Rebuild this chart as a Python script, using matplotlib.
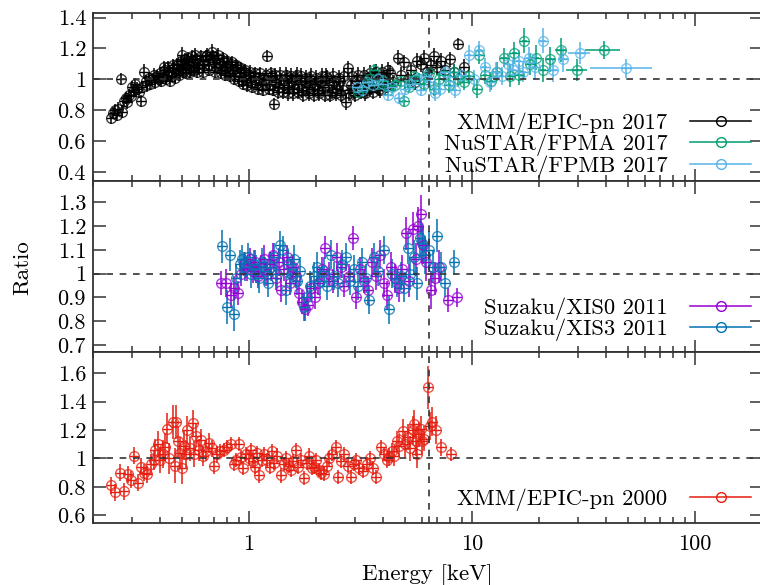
import matplotlib
matplotlib.use("Agg")
import matplotlib.pyplot as plt
from matplotlib.lines import Line2D
from matplotlib.ticker import FixedLocator, FuncFormatter, LogLocator, NullFormatter

plt.rcParams['font.family'] = 'serif'
plt.rcParams['font.serif'] = ['cmr10']
plt.rcParams['mathtext.fontset'] = 'cm'
plt.rcParams['axes.formatter.use_mathtext'] = True
plt.rcParams['font.size'] = 16

# XMM/EPIC-pn 2017
e_xmm17 = [0.24, 0.245, 0.25, 0.255, 0.26, 0.266, 0.27, 0.275, 0.28, 0.285,
           0.29, 0.295, 0.30, 0.305, 0.31, 0.315, 0.32, 0.327, 0.333, 0.338,
           0.345, 0.35, 0.356, 0.362, 0.368, 0.375, 0.38, 0.387, 0.394, 0.40,
           0.41, 0.42, 0.43, 0.44, 0.45, 0.46, 0.47, 0.48, 0.49, 0.50,
           0.51, 0.52, 0.53, 0.54, 0.55, 0.56, 0.57, 0.58, 0.59, 0.60,
           0.62, 0.63, 0.64, 0.66, 0.67, 0.68, 0.70, 0.71, 0.72, 0.74,
           0.76, 0.77, 0.79, 0.81, 0.83, 0.85, 0.87, 0.89, 0.91, 0.93,
           0.95, 0.97, 1.00, 1.02, 1.05, 1.08, 1.11, 1.14, 1.17, 1.21,
           1.24, 1.27, 1.30, 1.33, 1.37, 1.40, 1.44, 1.48, 1.52, 1.56,
           1.60, 1.64, 1.68, 1.73, 1.78, 1.83, 1.88, 1.93, 1.98, 2.04,
           2.10, 2.16, 2.22, 2.28, 2.35, 2.42, 2.49, 2.56, 2.64, 2.72,
           2.78, 2.86, 2.95, 3.04, 3.13, 3.23, 3.33, 3.43, 3.54, 3.65,
           3.77, 3.89, 4.02, 4.15, 4.30, 4.45, 4.65, 4.80, 4.96, 5.15,
           5.35, 5.55, 5.70, 5.90, 6.10, 6.30, 6.55, 6.75, 7.00, 7.30,
           7.60, 8.00, 8.30, 8.70, 9.20,
           0.405, 0.415, 0.425, 0.435, 0.445, 0.455, 0.465, 0.475, 0.485, 0.495,
           0.505, 0.515, 0.525, 0.535, 0.545, 0.555, 0.565, 0.575, 0.585, 0.61,
           0.625, 0.65, 0.665, 0.69, 0.705, 0.73, 0.75, 0.765, 0.78, 0.80,
           0.82, 0.84, 0.86, 0.88, 0.90, 0.92, 0.94, 0.96, 0.985, 1.01,
           1.035, 1.065, 1.095, 1.125, 1.155, 1.19, 1.225, 1.255, 1.285, 1.315,
           1.35, 1.385, 1.42, 1.46, 1.50, 1.54, 1.58, 1.62, 1.66, 1.705,
           1.755, 1.805, 1.855, 1.905, 1.955, 2.01, 2.07, 2.13, 2.19, 2.25,
           2.31, 2.385, 2.455, 2.525, 2.60, 2.68, 2.82, 2.90, 3.00, 3.08,
           3.18, 3.28, 3.38, 3.48, 3.60, 3.71, 3.83, 3.95, 4.08, 4.22]
r_xmm17 = [0.75, 0.78, 0.80, 0.77, 0.81, 1.00, 0.79, 0.86, 0.88, 0.85,
           0.90, 0.89, 0.95, 0.93, 0.97, 0.94, 0.92, 0.86, 0.95, 1.05,
           0.99, 0.96, 1.01, 0.97, 1.00, 1.03, 0.98, 1.02, 1.00, 1.04,
           1.01, 1.06, 1.03, 1.05, 1.02, 1.07, 1.04, 1.09, 1.06, 1.16,
           1.10, 1.07, 1.12, 1.09, 1.06, 1.11, 1.08, 1.13, 1.10, 1.07,
           1.12, 1.09, 1.15, 1.10, 1.13, 1.18, 1.11, 1.08, 1.14, 1.10,
           1.06, 1.12, 1.08, 1.04, 1.10, 1.06, 1.02, 1.08, 1.04, 0.99,
           1.05, 1.01, 1.03, 0.98, 1.02, 0.97, 1.01, 0.96, 1.00, 1.15,
           0.97, 1.02, 0.84, 0.98, 0.95, 1.00, 0.96, 1.01, 0.95, 0.99,
           0.94, 1.03, 0.97, 0.93, 0.99, 0.95, 1.00, 0.94, 0.97, 0.93,
           0.99, 0.95, 1.02, 0.96, 0.92, 0.98, 0.94, 0.99, 0.93, 0.85,
           1.07, 0.96, 0.92, 0.99, 0.94, 0.97, 0.91, 1.00, 0.95, 1.03,
           0.97, 0.93, 1.01, 0.96, 1.04, 0.98, 1.14, 1.03, 1.11, 1.00,
           1.06, 0.98, 1.12, 1.10, 1.14, 1.05, 1.09, 1.15, 1.08, 1.12,
           1.06, 1.13, 1.05, 1.23, 1.08,
           0.99, 1.08, 1.00, 1.08, 0.99, 1.09, 1.01, 1.10, 1.03, 1.12,
           1.05, 1.13, 1.04, 1.14, 1.05, 1.15, 1.06, 1.16, 1.05, 1.15,
           1.05, 1.16, 1.06, 1.15, 1.05, 1.16, 1.04, 1.14, 1.03, 1.12,
           1.02, 1.11, 1.00, 1.09, 0.99, 1.07, 0.97, 1.06, 0.96, 1.05,
           0.95, 1.04, 0.94, 1.04, 0.93, 1.03, 0.94, 1.04, 0.93, 1.03,
           0.92, 1.03, 0.92, 1.03, 0.91, 1.02, 0.91, 1.01, 0.92, 1.02,
           0.90, 1.01, 0.91, 1.02, 0.90, 1.01, 0.91, 1.02, 0.90, 1.01,
           0.90, 1.02, 0.91, 1.01, 0.90, 1.02, 0.91, 1.02, 0.90, 1.03,
           0.92, 1.03, 0.93, 1.04, 0.92, 1.05, 0.94, 1.05, 0.95, 1.06]
d_xmm17 = [0.04, 0.04, 0.04, 0.04, 0.04, 0.04, 0.04, 0.04, 0.04, 0.04,
           0.04, 0.04, 0.04, 0.04, 0.04, 0.04, 0.04, 0.04, 0.04, 0.05,
           0.04, 0.04, 0.04, 0.04, 0.04, 0.04, 0.04, 0.04, 0.04, 0.04,
           0.04, 0.04, 0.04, 0.04, 0.04, 0.04, 0.04, 0.04, 0.04, 0.05,
           0.04, 0.04, 0.04, 0.04, 0.04, 0.04, 0.04, 0.04, 0.04, 0.04,
           0.04, 0.04, 0.04, 0.04, 0.04, 0.05, 0.04, 0.04, 0.04, 0.04,
           0.04, 0.04, 0.04, 0.04, 0.04, 0.04, 0.04, 0.04, 0.04, 0.04,
           0.04, 0.04, 0.04, 0.04, 0.04, 0.04, 0.04, 0.04, 0.04, 0.04,
           0.04, 0.04, 0.04, 0.04, 0.05, 0.04, 0.05, 0.05, 0.05, 0.05,
           0.05, 0.05, 0.05, 0.05, 0.05, 0.05, 0.05, 0.05, 0.05, 0.05,
           0.05, 0.05, 0.05, 0.05, 0.05, 0.05, 0.05, 0.05, 0.05, 0.05,
           0.05, 0.05, 0.05, 0.05, 0.05, 0.05, 0.05, 0.05, 0.05, 0.05,
           0.05, 0.05, 0.05, 0.05, 0.05, 0.05, 0.05, 0.05, 0.05, 0.05,
           0.05, 0.05, 0.05, 0.05, 0.05, 0.05, 0.05, 0.05, 0.05, 0.05,
           0.05, 0.05, 0.05, 0.04, 0.05,
           0.04, 0.04, 0.04, 0.04, 0.04, 0.04, 0.04, 0.04, 0.04, 0.04,
           0.04, 0.04, 0.04, 0.04, 0.04, 0.04, 0.04, 0.04, 0.04, 0.04,
           0.04, 0.04, 0.04, 0.04, 0.04, 0.04, 0.04, 0.04, 0.04, 0.04,
           0.04, 0.04, 0.04, 0.04, 0.04, 0.04, 0.04, 0.04, 0.04, 0.04,
           0.04, 0.04, 0.04, 0.04, 0.04, 0.04, 0.04, 0.04, 0.04, 0.04,
           0.05, 0.05, 0.05, 0.05, 0.05, 0.05, 0.05, 0.05, 0.05, 0.05,
           0.05, 0.05, 0.05, 0.05, 0.05, 0.05, 0.05, 0.05, 0.05, 0.05,
           0.05, 0.05, 0.05, 0.05, 0.05, 0.05, 0.05, 0.05, 0.05, 0.05,
           0.05, 0.05, 0.05, 0.05, 0.05, 0.05, 0.05, 0.05, 0.05, 0.05]

# NuSTAR/FPMA 2017
e_fpma = [3.1, 3.3, 3.45, 3.63, 3.8, 4.0, 4.2, 4.5, 4.8, 4.96,
          5.2, 5.5, 5.8, 6.1, 6.4, 6.75, 7.1, 7.5, 7.9, 8.3,
          8.7, 9.2, 9.7, 10.5, 10.8, 11.5, 12.2, 13.0, 13.9, 14.8,
          15.5, 16.3, 17.2, 18.3, 19.4, 20.8, 22.5, 25.0, 29.5, 39.0]
r_fpma = [0.92, 0.95, 1.00, 1.06, 0.97, 0.99, 0.93, 0.96, 0.99, 0.86,
          0.95, 1.02, 1.00, 0.97, 1.04, 0.94, 1.00, 1.03, 0.96, 1.05,
          1.00, 0.98, 1.02, 0.94, 1.16, 1.03, 0.99, 1.05, 1.14, 1.02,
          1.17, 1.03, 1.25, 1.10, 1.14, 1.06, 1.13, 1.19, 1.06, 1.19]
d_fpma = [0.04, 0.04, 0.04, 0.04, 0.04, 0.04, 0.04, 0.04, 0.04, 0.04,
          0.04, 0.04, 0.04, 0.04, 0.04, 0.05, 0.05, 0.05, 0.05, 0.05,
          0.05, 0.05, 0.05, 0.06, 0.06, 0.06, 0.06, 0.06, 0.06, 0.07,
          0.07, 0.07, 0.08, 0.07, 0.08, 0.08, 0.08, 0.08, 0.07, 0.06]
w_fpma = [0.05, 0.05, 0.05, 0.06, 0.06, 0.06, 0.07, 0.07, 0.08, 0.08,
          0.08, 0.09, 0.09, 0.1, 0.1, 0.11, 0.12, 0.12, 0.13, 0.14,
          0.14, 0.15, 0.16, 0.2, 0.2, 0.25, 0.3, 0.35, 0.4, 0.45,
          0.4, 0.45, 0.5, 0.6, 0.7, 0.8, 1.0, 1.5, 3.2, 7.0]

# NuSTAR/FPMB 2017
e_fpmb = [3.05, 3.2, 3.4, 3.6, 3.8, 4.0, 4.2, 4.4, 4.7, 5.0,
          5.3, 5.6, 5.9, 6.2, 6.5, 6.8, 7.2, 7.6, 8.0, 8.4,
          8.9, 9.7, 10.2, 10.8, 11.4, 12.0, 12.8, 13.6, 14.5, 15.3,
          16.2, 17.0, 18.0, 19.2, 20.8, 23.0, 25.6, 30.5, 49.0]
r_fpmb = [0.95, 0.93, 0.98, 0.96, 1.00, 0.97, 0.90, 0.95, 0.88, 0.94,
          0.97, 1.00, 0.93, 1.02, 0.98, 0.91, 0.94, 1.05, 0.99, 0.93,
          1.03, 1.16, 1.00, 1.19, 1.08, 0.98, 1.05, 1.02, 1.10, 1.06,
          1.12, 1.05, 1.14, 1.08, 1.25, 1.06, 1.13, 1.17, 1.07]
d_fpmb = [0.04, 0.04, 0.04, 0.04, 0.04, 0.04, 0.04, 0.04, 0.04, 0.04,
          0.04, 0.04, 0.04, 0.04, 0.05, 0.05, 0.05, 0.05, 0.05, 0.05,
          0.05, 0.06, 0.06, 0.06, 0.06, 0.06, 0.06, 0.06, 0.07, 0.07,
          0.07, 0.07, 0.07, 0.08, 0.08, 0.08, 0.08, 0.07, 0.06]
w_fpmb = [0.05, 0.05, 0.05, 0.06, 0.06, 0.06, 0.07, 0.07, 0.08, 0.08,
          0.09, 0.09, 0.1, 0.1, 0.11, 0.11, 0.12, 0.13, 0.13, 0.14,
          0.15, 0.2, 0.2, 0.25, 0.25, 0.3, 0.3, 0.35, 0.4, 0.4,
          0.45, 0.5, 0.55, 0.6, 0.8, 1.0, 1.3, 3.5, 15.0]

# Suzaku/XIS0 2011
e_xis0 = [0.75, 0.79, 0.83, 0.86, 0.89, 0.92, 0.95, 0.98, 1.01, 1.04,
          1.07, 1.10, 1.13, 1.17, 1.20, 1.24, 1.28, 1.32, 1.36, 1.40,
          1.44, 1.48, 1.53, 1.58, 1.63, 1.68, 1.73, 1.78, 1.84, 1.90,
          1.97, 2.04, 2.12, 2.20, 2.28, 2.38, 2.48, 2.58, 2.68, 2.80,
          2.92, 3.02, 3.15, 3.28, 3.42, 3.56, 3.70, 3.86, 4.02, 4.18,
          4.35, 4.52, 4.70, 4.88, 5.06, 5.25, 5.42, 5.60, 5.75, 5.90,
          6.05, 6.25, 6.55, 6.80, 7.10, 7.80, 8.60]
r_xis0 = [0.96, 0.96, 0.91, 0.94, 0.92, 1.00, 1.04, 1.02, 1.06, 1.01,
          1.05, 0.99, 1.03, 1.06, 1.00, 1.04, 1.08, 0.98, 1.05, 0.93,
          1.02, 1.07, 0.96, 1.03, 0.99, 0.92, 0.88, 0.85, 0.87, 0.94,
          0.90, 0.96, 1.02, 1.11, 1.00, 0.97, 1.07, 1.03, 0.95, 0.99,
          1.15, 0.90, 1.02, 0.97, 0.93, 1.05, 0.99, 1.08, 0.96, 0.91,
          1.03, 0.98, 0.94, 1.02, 1.17, 0.97, 1.19, 1.06, 1.20, 1.25,
          1.12, 1.05, 0.93, 0.98, 1.03, 0.89, 0.90]
d_xis0 = [0.05, 0.06, 0.05, 0.05, 0.05, 0.05, 0.05, 0.05, 0.05, 0.05,
          0.05, 0.05, 0.05, 0.06, 0.05, 0.05, 0.05, 0.05, 0.06, 0.05,
          0.05, 0.05, 0.05, 0.05, 0.05, 0.05, 0.05, 0.05, 0.05, 0.05,
          0.05, 0.05, 0.05, 0.05, 0.05, 0.05, 0.06, 0.05, 0.05, 0.05,
          0.05, 0.05, 0.05, 0.05, 0.06, 0.06, 0.06, 0.06, 0.06, 0.06,
          0.06, 0.06, 0.06, 0.06, 0.07, 0.07, 0.07, 0.07, 0.08, 0.08,
          0.08, 0.08, 0.08, 0.07, 0.07, 0.05, 0.04]

# Suzaku/XIS3 2011
e_xis3 = [0.76, 0.80, 0.82, 0.86, 0.88, 0.91, 0.93, 0.96, 0.99, 1.02,
          1.05, 1.08, 1.11, 1.15, 1.18, 1.22, 1.26, 1.30, 1.34, 1.38,
          1.42, 1.46, 1.50, 1.55, 1.60, 1.65, 1.70, 1.76, 1.82, 1.88,
          1.95, 2.02, 2.09, 2.17, 2.25, 2.33, 2.42, 2.52, 2.62, 2.72,
          2.83, 2.95, 3.08, 3.22, 3.36, 3.45, 3.63, 3.80, 4.03, 4.24,
          4.40, 4.60, 4.80, 4.95, 5.15, 5.30, 5.50, 5.70, 5.85, 6.00,
          6.15, 6.40, 6.70, 7.00, 7.30, 7.60, 8.30]
r_xis3 = [1.115, 0.86, 1.08, 0.83, 0.98, 1.04, 1.06, 1.03, 1.07, 1.00,
          1.04, 1.02, 0.98, 1.05, 1.01, 0.96, 1.03, 1.07, 1.00, 1.12,
          1.10, 0.93, 1.04, 1.00, 1.06, 0.97, 1.01, 0.86, 0.90, 0.95,
          0.99, 1.03, 0.97, 1.01, 0.95, 1.08, 0.99, 0.96, 1.04, 1.07,
          0.97, 1.02, 0.95, 1.05, 0.98, 0.89, 1.07, 1.01, 1.10, 0.85,
          1.00, 0.96, 0.99, 0.94, 1.11, 1.00, 1.07, 0.96, 1.15, 1.13,
          1.08, 1.10, 1.03, 1.16, 1.03, 0.96, 1.05]
d_xis3 = [0.07, 0.07, 0.07, 0.07, 0.06, 0.06, 0.06, 0.06, 0.06, 0.06,
          0.06, 0.06, 0.06, 0.06, 0.06, 0.06, 0.06, 0.06, 0.06, 0.06,
          0.06, 0.06, 0.06, 0.06, 0.06, 0.06, 0.06, 0.06, 0.06, 0.06,
          0.06, 0.06, 0.06, 0.06, 0.06, 0.06, 0.06, 0.06, 0.06, 0.06,
          0.06, 0.06, 0.06, 0.06, 0.06, 0.06, 0.06, 0.06, 0.06, 0.06,
          0.06, 0.06, 0.06, 0.06, 0.07, 0.07, 0.07, 0.07, 0.08, 0.08,
          0.08, 0.08, 0.07, 0.07, 0.06, 0.06, 0.05]

# XMM/EPIC-pn 2000
e_xmm00 = [0.24, 0.25, 0.265, 0.276, 0.286, 0.296, 0.306, 0.317, 0.328, 0.34,
           0.35, 0.365, 0.375, 0.38, 0.39, 0.40, 0.41, 0.42, 0.43, 0.44,
           0.455, 0.465, 0.47, 0.48, 0.49, 0.50, 0.51, 0.52, 0.53, 0.545,
           0.56, 0.57, 0.58, 0.595, 0.61, 0.625, 0.64, 0.66, 0.68, 0.70,
           0.72, 0.74, 0.77, 0.80, 0.83, 0.86, 0.88, 0.90, 0.92, 0.94,
           0.97, 1.00, 1.02, 1.04, 1.06, 1.09, 1.11, 1.14, 1.17, 1.21,
           1.24, 1.27, 1.30, 1.34, 1.39, 1.43, 1.47, 1.51, 1.54, 1.58,
           1.62, 1.66, 1.71, 1.77, 1.82, 1.86, 1.91, 1.96, 2.01, 2.06,
           2.10, 2.18, 2.23, 2.29, 2.37, 2.45, 2.52, 2.60, 2.68, 2.77,
           2.87, 2.95, 3.02, 3.12, 3.25, 3.40, 3.50, 3.59, 3.71, 3.90,
           4.04, 4.15, 4.27, 4.40, 4.49, 4.60, 4.72, 4.89, 5.00, 5.15,
           5.30, 5.42, 5.51, 5.60, 5.70, 5.80, 5.90, 6.00, 6.10, 6.33,
           6.50, 6.60, 6.90, 7.26, 8.05]
r_xmm00 = [0.81, 0.76, 0.90, 0.77, 0.89, 0.85, 1.02, 0.83, 0.94, 0.90,
           0.89, 0.96, 0.99, 1.06, 1.10, 0.99, 1.03, 1.08, 1.21, 1.00,
           1.26, 0.95, 1.26, 1.12, 1.04, 0.93, 1.09, 1.03, 1.20, 1.07,
           1.25, 1.03, 1.16, 1.06, 1.13, 1.02, 1.05, 1.11, 1.07, 0.95,
           1.03, 1.05, 1.06, 1.08, 1.10, 0.96, 0.99, 1.10, 1.01, 0.93,
           1.03, 1.00, 1.06, 0.98, 0.94, 1.04, 0.88, 0.99, 1.03, 0.99,
           0.94, 1.05, 0.97, 1.02, 0.88, 0.96, 1.00, 0.95, 0.92, 0.98,
           1.06, 0.94, 0.99, 0.86, 0.97, 1.02, 0.93, 0.94, 0.99, 0.92,
           0.90, 0.89, 0.95, 1.00, 1.03, 1.08, 0.87, 0.98, 1.03, 0.95,
           0.87, 0.96, 0.99, 0.93, 0.91, 0.96, 1.00, 0.93, 0.87, 1.08,
           1.03, 0.99, 1.01, 1.05, 1.02, 1.12, 1.09, 1.19, 1.10, 1.15,
           1.07, 1.20, 1.24, 1.12, 1.03, 1.17, 1.21, 1.12, 1.14, 1.50,
           1.23, 1.26, 1.20, 1.08, 1.03]
d_xmm00 = [0.06, 0.06, 0.06, 0.06, 0.06, 0.06, 0.06, 0.06, 0.06, 0.06,
           0.06, 0.07, 0.07, 0.08, 0.09, 0.09, 0.10, 0.10, 0.11, 0.11,
           0.12, 0.12, 0.12, 0.11, 0.11, 0.11, 0.10, 0.10, 0.10, 0.09,
           0.09, 0.09, 0.08, 0.08, 0.08, 0.07, 0.07, 0.07, 0.06, 0.06,
           0.06, 0.05, 0.05, 0.05, 0.05, 0.05, 0.05, 0.05, 0.05, 0.05,
           0.05, 0.05, 0.05, 0.05, 0.05, 0.05, 0.05, 0.05, 0.05, 0.05,
           0.05, 0.05, 0.05, 0.05, 0.05, 0.05, 0.05, 0.05, 0.05, 0.05,
           0.05, 0.05, 0.05, 0.05, 0.05, 0.05, 0.05, 0.05, 0.05, 0.05,
           0.05, 0.05, 0.05, 0.05, 0.05, 0.05, 0.05, 0.05, 0.05, 0.05,
           0.05, 0.05, 0.05, 0.05, 0.05, 0.05, 0.05, 0.05, 0.05, 0.05,
           0.05, 0.06, 0.06, 0.06, 0.07, 0.07, 0.08, 0.09, 0.09, 0.09,
           0.09, 0.10, 0.10, 0.10, 0.10, 0.09, 0.09, 0.09, 0.09, 0.15,
           0.10, 0.10, 0.10, 0.06, 0.05]

fe_line = 6.4

c_black = "black"
c_green = "#009e73"
c_sky = "#56b4e9"
c_purple = "#9400d3"
c_blue = "#0072b2"
c_red = "#e51e10"


def draw(ax, e, r, d, col, w=None):
    ax.errorbar(e, r, yerr=d, xerr=w, fmt='none', ecolor=col, elinewidth=1.1, capsize=0, zorder=2)
    ax.plot(e, r, ls='none', marker='o', ms=7, mfc='none', mec=col, mew=1.0, alpha=0.75, zorder=3)
    ax.plot(e, r, ls='none', marker='_', ms=7, mec=col, mew=1.0, zorder=3)


def handle(col):
    return Line2D([], [], color=col, lw=1.1, marker='o', ms=7, mfc='none', mec=col, mew=1.0)


fig = plt.figure(figsize=(7.6, 5.85), dpi=100)
left = 93 / 760
width = (762 - 93) / 760
ax1 = fig.add_axes([left, 1 - 181 / 585, width, 168 / 585])
ax2 = fig.add_axes([left, 1 - 352 / 585, width, 171 / 585])
ax3 = fig.add_axes([left, 1 - 523 / 585, width, 171 / 585])

draw(ax1, e_xmm17, r_xmm17, d_xmm17, c_black)
draw(ax1, e_fpma, r_fpma, d_fpma, c_green, w_fpma)
draw(ax1, e_fpmb, r_fpmb, d_fpmb, c_sky, w_fpmb)

draw(ax2, e_xis0, r_xis0, d_xis0, c_purple)
draw(ax2, e_xis3, r_xis3, d_xis3, c_blue)

draw(ax3, e_xmm00, r_xmm00, d_xmm00, c_red)

fmt = FuncFormatter(lambda v, p: '%g' % v)
ylims = [(0.34, 1.43), (0.67, 1.39), (0.545, 1.75)]
yticks = [[0.4, 0.6, 0.8, 1, 1.2, 1.4],
          [0.7, 0.8, 0.9, 1, 1.1, 1.2, 1.3],
          [0.6, 0.8, 1, 1.2, 1.4, 1.6]]

for ax, yl, yt in zip([ax1, ax2, ax3], ylims, yticks):
    ax.set_xscale('log')
    ax.set_xlim(0.2, 200)
    ax.set_ylim(*yl)
    ax.axhline(1, color='#333333', lw=1.2, ls=(0, (4, 4)), zorder=5)
    ax.axvline(fe_line, color='#333333', lw=1.2, ls=(0, (4, 4)), zorder=5)
    ax.xaxis.set_major_locator(FixedLocator([1, 10, 100]))
    ax.xaxis.set_minor_locator(LogLocator(base=10, subs=[2, 3, 4, 5, 6, 7, 8, 9]))
    ax.xaxis.set_minor_formatter(NullFormatter())
    ax.xaxis.set_major_formatter(fmt)
    ax.yaxis.set_major_locator(FixedLocator(yt))
    ax.yaxis.set_major_formatter(fmt)
    ax.tick_params(which='both', direction='in', top=True, right=True, width=1.1, color='#333333')
    ax.tick_params(which='major', length=9, pad=5)
    ax.tick_params(which='minor', length=4.5)
    ax.tick_params(axis='x', pad=8)
    for s in ax.spines.values():
        s.set_linewidth(1.3)
        s.set_color('#333333')

ax1.tick_params(axis='x', labelbottom=False)
ax2.tick_params(axis='x', labelbottom=False)

leg_kw = dict(frameon=False, markerfirst=False, handlelength=2.7, handletextpad=1.0,
              labelspacing=-0.05, borderpad=0.1, borderaxespad=0.2, fontsize=16.3)
ax1.legend([handle(c_black), handle(c_green), handle(c_sky)],
           ['XMM/EPIC-pn 2017', 'NuSTAR/FPMA 2017', 'NuSTAR/FPMB 2017'],
           loc='lower right', bbox_to_anchor=(0.994, -0.02), **leg_kw)
ax2.legend([handle(c_purple), handle(c_blue)],
           ['Suzaku/XIS0 2011', 'Suzaku/XIS3 2011'],
           loc='lower right', bbox_to_anchor=(0.994, 0.025), **leg_kw)
ax3.legend([handle(c_red)], ['XMM/EPIC-pn 2000'],
           loc='lower right', bbox_to_anchor=(0.994, 0.03), **leg_kw)

fig.text(22 / 760, 1 - 268 / 585, 'Ratio', rotation=90, ha='center', va='center', fontsize=16.5)
fig.text(427 / 760, 1 - 575 / 585, 'Energy [keV]', ha='center', va='center', fontsize=16.5)

fig.savefig('out.png', dpi=100)
